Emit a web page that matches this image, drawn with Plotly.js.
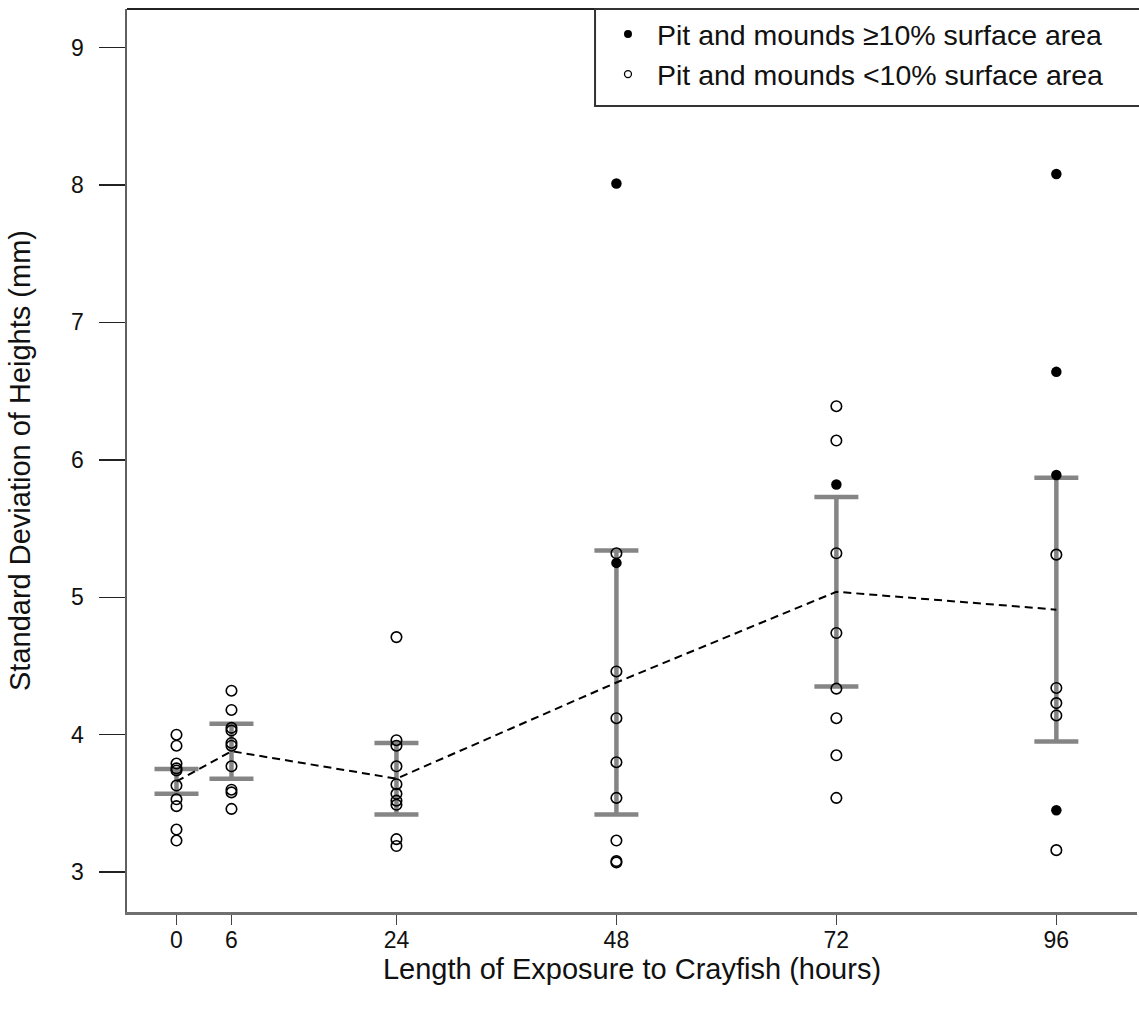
<!DOCTYPE html>
<html>
<head>
<meta charset="utf-8">
<script src="https://cdn.plot.ly/plotly-3.0.1.min.js"></script>
<style>html,body{margin:0;padding:0;background:#fff;}#chart{width:1139px;height:1010px;}</style>
</head>
<body>
<div id="chart"></div>
<script>
// Exposure times (hours)
var hours = [0, 6, 24, 48, 72, 96];
var tickLabels = ["0", "6", "24", "48", "72", "96"];
// Group means and error-bar half lengths
var means = [3.66, 3.88, 3.68, 4.38, 5.04, 4.91];
var errs = [0.09, 0.20, 0.26, 0.96, 0.69, 0.96];
// Pit and mounds >= 10% surface area (filled)
var filledX = [48, 48, 72, 96, 96, 96, 96];
var filledY = [8.01, 5.25, 5.82, 8.08, 6.64, 5.89, 3.45];
// Pit and mounds < 10% surface area (open)
var openX = [0,0,0,0,0,0,0,0,0,0,
             6,6,6,6,6,6,6,6,6,6,
             24,24,24,24,24,24,24,24,24,24,
             48,48,48,48,48,48,48,48,
             72,72,72,72,72,72,72,72,
             96,96,96,96,96];
var openY = [4.00,3.92,3.79,3.755,3.74,3.63,3.53,3.48,3.31,3.23,
             4.32,4.18,4.05,4.03,3.94,3.92,3.77,3.60,3.58,3.46,
             4.71,3.96,3.92,3.77,3.64,3.57,3.52,3.49,3.24,3.19,
             5.32,4.46,4.12,3.80,3.54,3.23,3.08,3.07,
             6.39,6.14,5.32,4.74,4.335,4.12,3.85,3.54,
             5.31,4.34,4.23,4.14,3.16];
var legendNames = ["Pit and mounds \u226510% surface area", "Pit and mounds <10% surface area"];

var FONT = "Liberation Sans, Arial, sans-serif";

var traces = [
  {x: hours, y: means, type: "scatter", mode: "markers", showlegend: false, hoverinfo: "skip",
   marker: {size: 1, opacity: 0},
   error_y: {type: "data", array: errs, visible: true, color: "#858585", thickness: 4.5, width: 22}},
  {x: hours, y: means, type: "scatter", mode: "lines", showlegend: false,
   line: {color: "#000", width: 2, dash: "8px,5px"}},
  {x: openX, y: openY, type: "scatter", mode: "markers", showlegend: false,
   marker: {symbol: "circle-open", size: 10.5, color: "#000", line: {width: 1.6, color: "#000"}}},
  {x: filledX, y: filledY, type: "scatter", mode: "markers", showlegend: false,
   marker: {symbol: "circle", size: 10.5, color: "#000"}},
  {x: [null], y: [null], type: "scatter", mode: "markers", name: legendNames[0],
   marker: {symbol: "circle", size: 8, color: "#000"}},
  {x: [null], y: [null], type: "scatter", mode: "markers", name: legendNames[1],
   marker: {symbol: "circle-open", size: 7, color: "#000", line: {width: 1.3, color: "#000"}}}
];

var layout = {
  width: 1139, height: 1010,
  margin: {l: 127, r: 2, t: 9, b: 98},
  paper_bgcolor: "#fff", plot_bgcolor: "#fff",
  font: {family: FONT, color: "#111"},
  showlegend: true,
  legend: {x: 0.4673, xanchor: "left", y: 1, yanchor: "top",
           borderwidth: 0, bgcolor: "rgba(0,0,0,0)",
           font: {family: FONT, size: 28.5, color: "#111"},
           tracegroupgap: 0, itemwidth: 48},
  xaxis: {range: [-5.4, 104.8], tickmode: "array", tickvals: hours, ticktext: tickLabels,
          showgrid: false, zeroline: false, showline: true, linecolor: "#707070", linewidth: 2.5,
          ticks: "outside", ticklen: 10, tickwidth: 1.5, tickcolor: "#444",
          ticklabelstandoff: -4,
          tickfont: {family: FONT, size: 23, color: "#111"},
          title: {text: "Length of Exposure to Crayfish (hours)", font: {family: FONT, size: 29, color: "#111"}, standoff: 6}},
  yaxis: {range: [2.71, 9.28], tickmode: "linear", tick0: 3, dtick: 1,
          showgrid: false, zeroline: false, showline: true, linecolor: "#606060", linewidth: 2.5,
          ticks: "outside", ticklen: 26, tickwidth: 1.5, tickcolor: "#222",
          ticklabelstandoff: 10,
          tickfont: {family: FONT, size: 23, color: "#111"},
          title: {text: "Standard Deviation of Heights (mm)", font: {family: FONT, size: 29, color: "#111"}, standoff: 32}},
  shapes: [
    {type: "line", xref: "paper", yref: "paper", x0: 0, x1: 1, y0: 1, y1: 1,
     line: {color: "#222", width: 2}},
    {type: "rect", xref: "paper", yref: "paper", x0: 0.4634, x1: 1.05, y0: 0.8926, y1: 1.0,
     line: {color: "#333", width: 2}, fillcolor: "rgba(0,0,0,0)"}
  ]
};

Plotly.newPlot("chart", traces, layout, {displayModeBar: false, staticPlot: true});
</script>
</body>
</html>
